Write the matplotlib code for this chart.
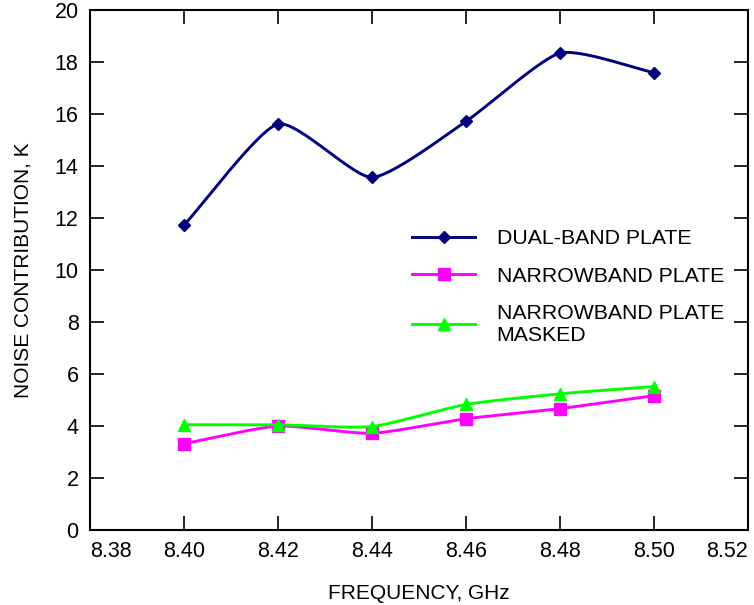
import numpy as np
import matplotlib
matplotlib.use("Agg")
import matplotlib.pyplot as plt

plt.rcParams['font.family'] = ['Liberation Sans', 'DejaVu Sans']

freq = [8.40, 8.42, 8.44, 8.46, 8.48, 8.50]
dual_band = [11.72, 15.62, 13.57, 15.72, 18.35, 17.60]
narrowband = [3.32, 4.00, 3.72, 4.28, 4.67, 5.17]
narrowband_masked = [4.05, 4.05, 3.98, 4.83, 5.24, 5.52]

xticks = [8.38, 8.40, 8.42, 8.44, 8.46, 8.48, 8.50, 8.52]
yticks = [0, 2, 4, 6, 8, 10, 12, 14, 16, 18, 20]


def smooth(x, y, n=30, k=0.6):
    # cardinal curve through the data points, for drawing only
    x = np.asarray(x); y = np.asarray(y)
    px = np.concatenate([[2 * x[0] - x[1]], x, [2 * x[-1] - x[-2]]])
    py = np.concatenate([[2 * y[0] - y[1]], y, [2 * y[-1] - y[-2]]])
    xs, ys = [], []
    for i in range(1, len(px) - 2):
        t = np.linspace(0, 1, n, endpoint=(i == len(px) - 3))
        h00 = 2 * t**3 - 3 * t**2 + 1
        h10 = t**3 - 2 * t**2 + t
        h01 = -2 * t**3 + 3 * t**2
        h11 = t**3 - t**2
        for p, out in ((px, xs), (py, ys)):
            m1 = k * (p[i + 1] - p[i - 1]) / 2
            m2 = k * (p[i + 2] - p[i]) / 2
            out.extend(h00 * p[i] + h10 * m1 + h01 * p[i + 1] + h11 * m2)
    return xs, ys


fig = plt.figure(figsize=(7.54, 6.05), dpi=100)
ax = fig.add_axes([0.119, 0.124, 0.873, 0.859])

series = [
    (dual_band, "DUAL-BAND PLATE", "#000080", "D", 6),
    (narrowband, "NARROWBAND PLATE", "#FF00FF", "s", 8),
    (narrowband_masked, "NARROWBAND PLATE\nMASKED", "#00FF00", "^", 8),
]
for vals, lab, col, mk, ms in series:
    sx, sy = smooth(freq, vals)
    ax.plot(sx, sy, color=col, lw=2.1)
    ax.plot(freq, vals, ls="none", marker=mk, ms=ms, color=col)
    ax.plot([], [], color=col, lw=2.1, marker=mk, ms=ms, label=lab)

ax.set_xlim(8.38, 8.52)
ax.set_ylim(0, 20)
ax.set_xticks(xticks)
ax.set_xticklabels(["%.2f" % v for v in xticks])
ax.set_yticks(yticks)
labs = ax.get_xticklabels()
labs[0].set_horizontalalignment("left")
labs[-1].set_horizontalalignment("right")
ax.tick_params(direction="in", length=10, width=1.2, labelsize=15.5,
               top=True, right=True, pad=8)
for s in ax.spines.values():
    s.set_linewidth(1.5)

ax.set_xlabel("FREQUENCY, GHz", fontsize=15, labelpad=16)
ax.set_ylabel("NOISE CONTRIBUTION, K", fontsize=15, labelpad=16)

ax.legend(loc="upper left", bbox_to_anchor=(0.46, 0.615), frameon=False,
          fontsize=15.3, handlelength=3.0, handletextpad=1.0, labelspacing=0.85)

fig.savefig("out.png", dpi=100)
